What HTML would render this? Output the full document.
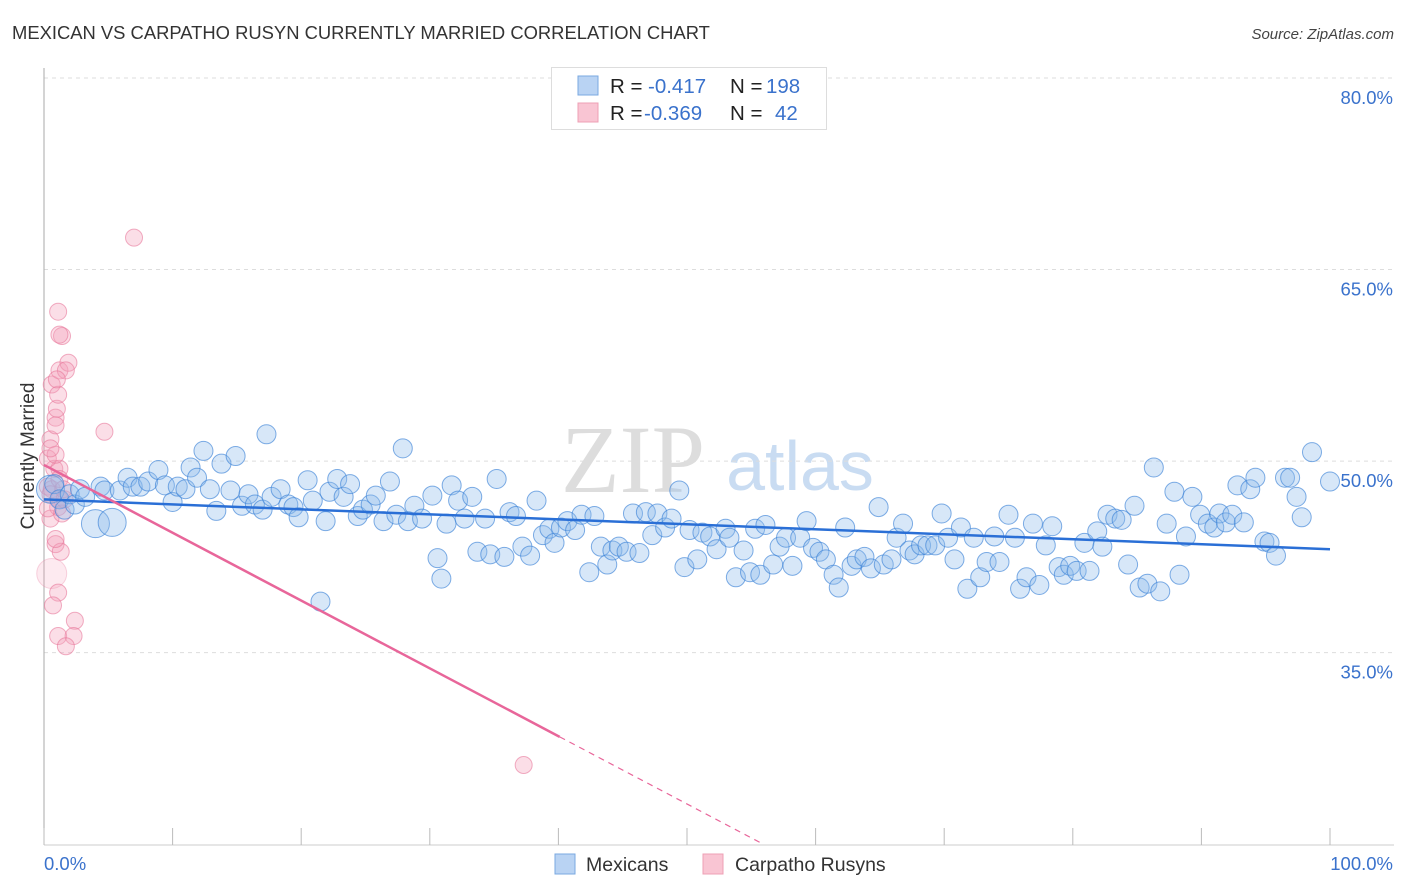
<!DOCTYPE html>
<html><head><meta charset="utf-8"><style>
body{margin:0;background:#fff;font-family:"Liberation Sans",sans-serif}
svg{display:block}
</style></head><body>
<svg id="chart" width="1406" height="892" xmlns="http://www.w3.org/2000/svg">
<text x="12" y="39" font-size="18.4" fill="#333">MEXICAN VS CARPATHO RUSYN CURRENTLY MARRIED CORRELATION CHART</text>
<text x="1394" y="39" font-size="15" fill="#444" font-style="italic" text-anchor="end">Source: ZipAtlas.com</text>
<g>
<text x="633" y="492" font-size="96" font-family="Liberation Serif,serif" fill="#ddd" text-anchor="middle">ZIP</text>
<text x="800" y="490" font-size="70" fill="#c9dcf2" text-anchor="middle">atlas</text>
</g>
<g id="grid"></g>
<g id="axes"></g>
<g id="pink"></g>
<g id="blue"></g>
<g id="lines"></g>
<text x="34" y="456" font-size="19" fill="#333" text-anchor="middle" transform="rotate(-90 34 456)">Currently Married</text>
<g>
<rect x="551.5" y="67.5" width="275" height="62" fill="#fff" stroke="#ddd"/>
<rect x="578" y="76" width="20" height="19" fill="#b9d3f3" stroke="#7aa8e0"/>
<rect x="578" y="103" width="20" height="19" fill="#f9c5d3" stroke="#eea0b5"/>
<text y="93" font-size="20.5"><tspan x="610" fill="#222">R = </tspan><tspan x="648" fill="#3a72cc">-0.417</tspan><tspan x="730" fill="#222">N = </tspan><tspan x="766" fill="#3a72cc">198</tspan></text>
<text y="120" font-size="20.5"><tspan x="610" fill="#222">R = </tspan><tspan x="644" fill="#3a72cc">-0.369</tspan><tspan x="730" fill="#222">N = </tspan><tspan x="775" fill="#3a72cc">42</tspan></text>
</g>
<g>
<rect x="555" y="854" width="20" height="20" fill="#b9d3f3" stroke="#7aa8e0"/>
<text x="586" y="871" font-size="19.5" fill="#333">Mexicans</text>
<rect x="703" y="854" width="20" height="20" fill="#f9c5d3" stroke="#eea0b5"/>
<text x="735" y="871" font-size="19.5" fill="#333">Carpatho Rusyns</text>
</g>
</svg>
<script>
const yTicks=[80,65,50,35];
const yTickLabels=["80.0%","65.0%","50.0%","35.0%"];
const xTickValues=[0,10,20,30,40,50,60,70,80,90,100];
const xEndLabels=["0.0%","100.0%"];
const blueX=[0.5,0.8,1.2,1.6,2.0,2.4,2.8,3.2,4.0,4.4,4.7,5.3,5.9,6.5,6.9,7.5,8.1,8.9,9.4,10.0,10.4,11.0,11.4,11.9,12.4,12.9,13.4,13.8,14.5,14.9,15.4,15.9,16.4,17.0,17.3,17.7,18.4,19.0,19.4,19.8,20.5,20.9,21.5,21.9,22.2,22.8,23.3,23.8,24.4,24.8,25.4,25.8,26.4,26.9,27.4,27.9,28.3,28.8,29.4,30.2,30.6,30.9,31.3,31.7,32.2,32.7,33.3,33.7,34.3,34.7,35.2,35.8,36.2,36.7,37.2,37.8,38.3,38.8,39.3,39.7,40.2,40.7,41.3,41.8,42.4,42.8,43.3,43.8,44.2,44.7,45.3,45.8,46.3,46.8,47.3,47.7,48.3,48.8,49.4,49.8,50.2,50.8,51.2,51.8,52.3,53.0,53.3,53.8,54.4,54.9,55.3,55.7,56.1,56.7,57.2,57.7,58.2,58.8,59.3,59.8,60.3,60.8,61.4,61.8,62.3,62.8,63.2,63.8,64.3,64.9,65.3,65.9,66.3,66.8,67.3,67.7,68.2,68.7,69.3,69.8,70.3,70.8,71.3,71.8,72.3,72.8,73.3,73.9,74.3,75.0,75.5,75.9,76.4,76.9,77.4,77.9,78.4,78.9,79.3,79.8,80.3,80.9,81.3,81.9,82.3,82.7,83.3,83.8,84.3,84.8,85.2,85.8,86.3,86.8,87.3,87.9,88.3,88.8,89.3,89.9,90.5,91.0,91.4,91.9,92.4,92.8,93.3,93.8,94.2,94.9,95.3,95.8,96.5,96.9,97.4,97.8,98.6,100.0];
const blueY=[47.8,48.2,47.0,46.2,47.4,46.6,47.8,47.2,45.1,48.0,47.7,45.2,47.7,48.7,48.0,48.0,48.4,49.3,48.1,46.8,48.0,47.8,49.5,48.7,50.8,47.8,46.1,49.8,47.7,50.4,46.5,47.4,46.6,46.2,52.1,47.2,47.8,46.6,46.4,45.6,48.5,46.9,39.0,45.3,47.6,48.6,47.2,48.2,45.7,46.2,46.6,47.3,45.3,48.4,45.8,51.0,45.3,46.5,45.5,47.3,42.4,40.8,45.1,48.1,46.9,45.5,47.2,42.9,45.5,42.7,48.6,42.5,46.0,45.7,43.3,42.6,46.9,44.2,44.7,43.6,44.8,45.3,44.6,45.8,41.3,45.7,43.3,41.9,43.0,43.3,42.9,45.9,42.8,46.0,44.2,45.9,44.8,45.5,47.7,41.7,44.6,42.3,44.4,44.1,43.1,44.7,44.0,40.9,43.0,41.3,44.7,41.1,45.0,41.9,43.3,44.0,41.8,44.0,45.3,43.2,42.9,42.3,41.1,40.1,44.8,41.8,42.3,42.5,41.6,46.4,41.9,42.3,44.0,45.1,43.0,42.7,43.4,43.4,43.4,45.9,44.0,42.3,44.8,40.0,44.0,40.9,42.1,44.1,42.1,45.8,44.0,40.0,40.9,45.1,40.3,43.4,44.9,41.7,41.1,41.8,41.4,43.6,41.4,44.5,43.3,45.8,45.5,45.4,41.9,46.5,40.1,40.4,49.5,39.8,45.1,47.6,41.1,44.1,47.2,45.8,45.1,44.8,45.9,45.2,45.8,48.1,45.2,47.8,48.7,43.7,43.6,42.6,48.7,48.7,47.2,45.6,50.7,48.4];
const pinkX=[0.3,0.5,0.6,0.8,0.5,0.6,0.9,1.0,1.1,1.2,1.4,1.1,1.9,1.7,0.9,0.6,1.2,1.1,1.3,1.1,2.4,1.1,2.3,1.7,0.7,4.7,7.0,37.3,1.2,0.3,0.9,0.9,1.4,0.5,1.2,1.0,0.5,1.6,0.3,0.9,1.5,1.2];
const pinkY=[48.0,45.5,47.8,49.4,51.7,56.0,53.4,54.1,55.2,57.1,59.8,61.7,57.7,57.1,43.5,41.2,49.4,46.4,42.9,39.7,37.5,36.3,36.3,35.5,38.7,52.3,67.5,26.2,47.0,50.2,50.5,43.9,45.9,47.4,48.6,56.4,51.0,47.0,46.3,52.8,47.8,59.9];
const blueTrend=[47.0,43.1];
const pinkTrend=[49.7,-0.531];
const pinkSolidEnd=40.1;

const X0=44,X1=1330,Y80=78,PXPER=12.77,BOTTOM=845;
const sx=v=>X0+(X1-X0)*v/100;
const sy=v=>Y80+(80-v)*PXPER;
const NS="http://www.w3.org/2000/svg";
function mk(tag,attrs,parent){const e=document.createElementNS(NS,tag);for(const k in attrs)e.setAttribute(k,attrs[k]);parent.appendChild(e);return e;}
const grid=document.getElementById('grid'),axes=document.getElementById('axes');
yTicks.forEach((t,i)=>{
  const l=mk('line',{x1:X0,x2:1394,y1:sy(t),y2:sy(t),stroke:'#ddd','stroke-dasharray':'4,4'},grid);
  
  
  const tx=mk('text',{x:1393,y:sy(t)+26,'font-size':18.5,fill:'#3a72cc','text-anchor':'end'},axes);
  tx.textContent=yTickLabels[i];
  
  
});
let a=mk('line',{x1:X0,x2:X0,y1:68,y2:BOTTOM,stroke:'#aaa'},axes);


a=mk('line',{x1:X0,x2:1394,y1:BOTTOM,y2:BOTTOM,stroke:'#ccc'},axes);


xTickValues.forEach(v=>{
  const t=mk('line',{x1:sx(v),x2:sx(v),y1:828,y2:BOTTOM,stroke:'#bbb'},axes);
  
  
});
[[0,'start'],[100,'end']].forEach((p,i)=>{
  const t=mk('text',{x:i?1393:44,y:870,'font-size':18.5,fill:'#3a72cc','text-anchor':p[1]},axes);
  t.textContent=xEndLabels[i];
  
  
});
const pg=document.getElementById('pink');
pinkX.forEach((x,i)=>{
  const big=i===15;
  const c=mk('circle',{cx:sx(x),cy:sy(pinkY[i]),r:big?15:8.5,fill:big?'rgba(244,160,185,0.22)':'rgba(244,160,185,0.35)',stroke:big?'rgba(232,120,155,0.3)':'rgba(232,120,155,0.6)','stroke-width':1},pg);
  
  
});
const bg=document.getElementById('blue');
blueX.forEach((x,i)=>{
  const big=(i===0||i===8||i===11);
  const c=mk('circle',{cx:sx(x),cy:sy(blueY[i]),r:big?14:9.5,fill:'rgba(140,185,235,0.35)',stroke:'rgba(60,130,215,0.65)','stroke-width':1},bg);
  
  
});
const lg=document.getElementById('lines');
let ln=mk('line',{x1:sx(0),y1:sy(blueTrend[0]),x2:sx(100),y2:sy(blueTrend[1]),stroke:'#2a6fd6','stroke-width':2.5},lg);


const pyAt=x=>pinkTrend[0]+pinkTrend[1]*x;
ln=mk('line',{x1:sx(0),y1:sy(pyAt(0)),x2:sx(pinkSolidEnd),y2:sy(pyAt(pinkSolidEnd)),stroke:'#e8669a','stroke-width':2.5},lg);


const xEnd=(20-pinkTrend[0])/pinkTrend[1];
ln=mk('line',{x1:sx(pinkSolidEnd),y1:sy(pyAt(pinkSolidEnd)),x2:sx(xEnd),y2:sy(20),stroke:'#e8669a','stroke-width':1.2,'stroke-dasharray':'6,5'},lg);


</script>
</body></html>
